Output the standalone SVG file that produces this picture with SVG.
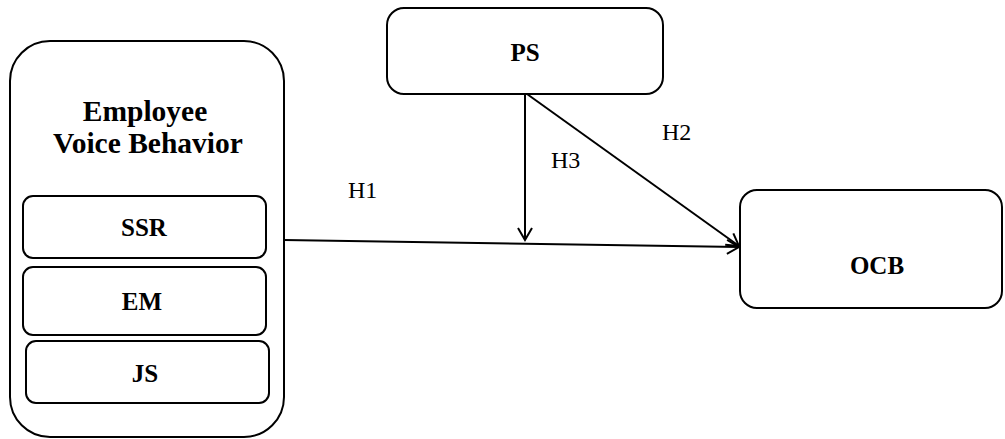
<svg xmlns="http://www.w3.org/2000/svg" width="1005" height="439" viewBox="0 0 1005 439">
<defs>
<style>
.box{fill:#fff;stroke:#000;stroke-width:2}
.b{font-family:"Liberation Serif","Times New Roman",serif;font-weight:bold;font-size:25px;text-anchor:middle}
.big{font-size:29.5px}
.lbl{font-family:"Liberation Serif","Times New Roman",serif;font-size:24px}
.edge{stroke:#000;stroke-width:2;fill:none}
</style>
<marker id="arr" markerWidth="20" markerHeight="20" refX="14" refY="8" orient="auto" markerUnits="userSpaceOnUse" viewBox="0 0 20 16">
<path d="M2,1 L14,8 L2,15" fill="none" stroke="#000" stroke-width="2"/>
</marker>
</defs>
<rect width="1005" height="439" fill="#fff"/>
<g id="evb">
<rect class="box" x="10" y="41" width="274" height="396" rx="40"/>
<text class="b big" x="145" y="121">Employee</text>
<text class="b big" x="148" y="153">Voice Behavior</text>
</g>
<g id="ssr"><rect class="box" x="23" y="196" width="243" height="62" rx="10"/><text class="b" x="144" y="236">SSR</text></g>
<g id="em"><rect class="box" x="23" y="267" width="243" height="68" rx="10"/><text class="b" x="142" y="310">EM</text></g>
<g id="js"><rect class="box" x="26" y="341" width="243" height="62" rx="10"/><text class="b" x="145" y="382">JS</text></g>
<g id="ps"><rect class="box" x="387" y="8" width="276" height="86" rx="17"/><text class="b" x="525" y="61">PS</text></g>
<g id="ocb"><rect class="box" x="740" y="190" width="262" height="118" rx="17"/><text class="b" x="877" y="274">OCB</text></g>
<g id="connectors">
<line class="edge" x1="284" y1="240" x2="739" y2="247" marker-end="url(#arr)"/>
<line class="edge" x1="525" y1="94" x2="525" y2="240" marker-end="url(#arr)"/>
<line class="edge" x1="527" y1="94" x2="739" y2="246" marker-end="url(#arr)"/>
<text class="lbl" x="348" y="198">H1</text>
<text class="lbl" x="551" y="168">H3</text>
<text class="lbl" x="662" y="140">H2</text>
</g>
</svg>
